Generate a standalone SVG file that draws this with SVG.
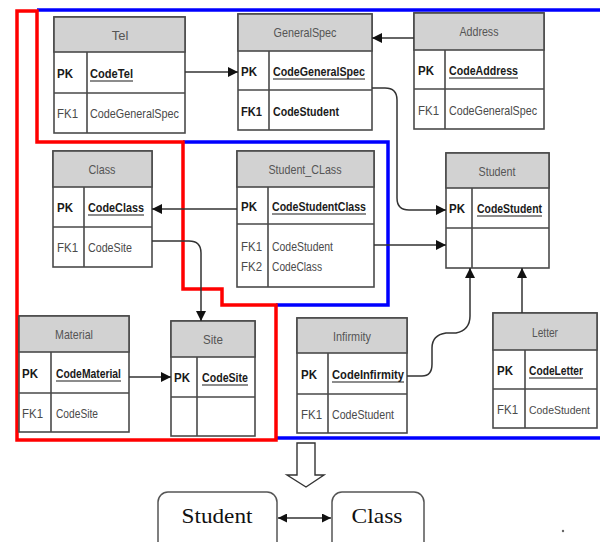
<svg xmlns="http://www.w3.org/2000/svg" width="600" height="542" viewBox="0 0 600 542">
  <style>
    .box { fill: #ffffff; stroke: #4a4a4a; stroke-width: 1.6; }
    .hdr { fill: #d2d2d2; stroke: #4a4a4a; stroke-width: 1.6; }
    .sep { stroke: #4a4a4a; stroke-width: 1.6; fill: none; }
    .ht { font-family: "Liberation Sans", Arial, sans-serif; font-size: 13px; fill: #555555; text-anchor: middle; }
    .k { font-family: "Liberation Sans", Arial, sans-serif; font-size: 13px; fill: #1a1a1a; font-weight: bold; }
    .f { font-family: "Liberation Sans", Arial, sans-serif; font-size: 13px; fill: #4a4a4a; }
    .ul { stroke: #1a1a1a; stroke-width: 1.2; }
    .conn { fill: none; stroke: #333333; stroke-width: 1.5; }
    .red { fill: none; stroke: #ff0000; stroke-width: 3.5; }
    .blue { fill: none; stroke: #0000ff; stroke-width: 3.5; }
    .rbox { fill: #ffffff; stroke: #555555; stroke-width: 1.5; }
    .st { font-family: "Liberation Serif", "Times New Roman", serif; font-size: 22px; fill: #111111; text-anchor: middle; }
  </style>
  <defs>
    <marker id="arr" viewBox="0 0 10 10" refX="10" refY="5" markerWidth="10" markerHeight="10" markerUnits="userSpaceOnUse" orient="auto">
      <path d="M0,0 L10,5 L0,10 z" fill="#111111"/>
    </marker>
    <marker id="arrs" viewBox="0 0 10 10" refX="10" refY="5" markerWidth="9" markerHeight="9" markerUnits="userSpaceOnUse" orient="auto-start-reverse">
      <path d="M0,0 L10,5 L0,10 z" fill="#111111"/>
    </marker>
  </defs>

  <!-- grouping outlines -->
  <g id="outlines">
    <path class="blue" d="M37,10 H600"/>
    <path class="blue" d="M183,142 H388 V305 H276"/>
    <path class="blue" d="M276,438 H600"/>
    <path class="red" d="M17,440 V11 H37 V142 H183 V289 H222 V305 H276 V440 Z"/>
  </g>

  <!-- Tel -->
  <g id="tel">
    <rect class="box" x="54" y="17" width="131" height="116"/>
    <rect class="hdr" x="54" y="17" width="131" height="35"/>
    <path class="sep" d="M54,93 H185 M87,52 V133"/>
    <text class="ht" x="120" y="40">Tel</text>
    <text class="k" x="57" y="78" textLength="16" lengthAdjust="spacingAndGlyphs">PK</text>
    <text class="k" x="90" y="78" textLength="43" lengthAdjust="spacingAndGlyphs">CodeTel</text>
    <line class="ul" x1="90" y1="81" x2="133" y2="81"/>
    <text class="f" x="57" y="118" textLength="21" lengthAdjust="spacingAndGlyphs">FK1</text>
    <text class="f" x="90" y="118" textLength="89" lengthAdjust="spacingAndGlyphs">CodeGeneralSpec</text>
  </g>

  <!-- GeneralSpec -->
  <g id="generalspec">
    <rect class="box" x="238" y="14" width="134" height="116"/>
    <rect class="hdr" x="238" y="14" width="134" height="37"/>
    <path class="sep" d="M238,90 H372 M269,51 V130"/>
    <text class="ht" x="305" y="37" textLength="63" lengthAdjust="spacingAndGlyphs">GeneralSpec</text>
    <text class="k" x="241" y="76" textLength="16" lengthAdjust="spacingAndGlyphs">PK</text>
    <text class="k" x="273" y="76" textLength="92" lengthAdjust="spacingAndGlyphs">CodeGeneralSpec</text>
    <line class="ul" x1="273" y1="79" x2="365" y2="79"/>
    <text class="k" x="241" y="116" textLength="21" lengthAdjust="spacingAndGlyphs">FK1</text>
    <text class="k" x="273" y="116" textLength="66" lengthAdjust="spacingAndGlyphs">CodeStudent</text>
  </g>

  <!-- Address -->
  <g id="address">
    <rect class="box" x="414" y="13" width="130" height="116"/>
    <rect class="hdr" x="414" y="13" width="130" height="37"/>
    <path class="sep" d="M414,89 H544 M445,50 V129"/>
    <text class="ht" x="479" y="36" textLength="39" lengthAdjust="spacingAndGlyphs">Address</text>
    <text class="k" x="418" y="75" textLength="16" lengthAdjust="spacingAndGlyphs">PK</text>
    <text class="k" x="449" y="75" textLength="69" lengthAdjust="spacingAndGlyphs">CodeAddress</text>
    <line class="ul" x1="449" y1="78" x2="518" y2="78"/>
    <text class="f" x="418" y="115" textLength="21" lengthAdjust="spacingAndGlyphs">FK1</text>
    <text class="f" x="449" y="115" textLength="88" lengthAdjust="spacingAndGlyphs">CodeGeneralSpec</text>
  </g>

  <!-- Class -->
  <g id="class">
    <rect class="box" x="53" y="151" width="99" height="116"/>
    <rect class="hdr" x="53" y="151" width="99" height="36"/>
    <path class="sep" d="M53,227 H152 M84,187 V267"/>
    <text class="ht" x="102" y="174" textLength="27" lengthAdjust="spacingAndGlyphs">Class</text>
    <text class="k" x="57" y="212" textLength="16" lengthAdjust="spacingAndGlyphs">PK</text>
    <text class="k" x="88" y="212" textLength="56" lengthAdjust="spacingAndGlyphs">CodeClass</text>
    <line class="ul" x1="88" y1="215" x2="144" y2="215"/>
    <text class="f" x="57" y="252" textLength="21" lengthAdjust="spacingAndGlyphs">FK1</text>
    <text class="f" x="88" y="252" textLength="44" lengthAdjust="spacingAndGlyphs">CodeSite</text>
  </g>

  <!-- Student_CLass -->
  <g id="student-class">
    <rect class="box" x="237" y="151" width="137" height="136"/>
    <rect class="hdr" x="237" y="151" width="137" height="36"/>
    <path class="sep" d="M237,224 H374 M268,187 V287"/>
    <text class="ht" x="305" y="174" textLength="73" lengthAdjust="spacingAndGlyphs">Student_CLass</text>
    <text class="k" x="241" y="211" textLength="16" lengthAdjust="spacingAndGlyphs">PK</text>
    <text class="k" x="272" y="211" textLength="94" lengthAdjust="spacingAndGlyphs">CodeStudentClass</text>
    <line class="ul" x1="272" y1="214" x2="366" y2="214"/>
    <text class="f" x="241" y="251" textLength="21" lengthAdjust="spacingAndGlyphs">FK1</text>
    <text class="f" x="272" y="251" textLength="61" lengthAdjust="spacingAndGlyphs">CodeStudent</text>
    <text class="f" x="241" y="271" textLength="21" lengthAdjust="spacingAndGlyphs">FK2</text>
    <text class="f" x="272" y="271" textLength="50" lengthAdjust="spacingAndGlyphs">CodeClass</text>
  </g>

  <!-- Student -->
  <g id="student">
    <rect class="box" x="446" y="153" width="103" height="115"/>
    <rect class="hdr" x="446" y="153" width="103" height="35"/>
    <path class="sep" d="M446,228 H549 M472,188 V268"/>
    <text class="ht" x="497" y="176" textLength="37" lengthAdjust="spacingAndGlyphs">Student</text>
    <text class="k" x="449" y="213" textLength="16" lengthAdjust="spacingAndGlyphs">PK</text>
    <text class="k" x="477" y="213" textLength="65" lengthAdjust="spacingAndGlyphs">CodeStudent</text>
    <line class="ul" x1="477" y1="216" x2="542" y2="216"/>
  </g>

  <!-- Material -->
  <g id="material">
    <rect class="box" x="19" y="316" width="110" height="116"/>
    <rect class="hdr" x="19" y="316" width="110" height="36"/>
    <path class="sep" d="M19,393 H129 M51,352 V432"/>
    <text class="ht" x="74" y="339" textLength="38" lengthAdjust="spacingAndGlyphs">Material</text>
    <text class="k" x="22" y="378" textLength="16" lengthAdjust="spacingAndGlyphs">PK</text>
    <text class="k" x="56" y="378" textLength="65" lengthAdjust="spacingAndGlyphs">CodeMaterial</text>
    <line class="ul" x1="56" y1="381" x2="121" y2="381"/>
    <text class="f" x="22" y="418" textLength="21" lengthAdjust="spacingAndGlyphs">FK1</text>
    <text class="f" x="56" y="418" textLength="42" lengthAdjust="spacingAndGlyphs">CodeSite</text>
  </g>

  <!-- Site -->
  <g id="site">
    <rect class="box" x="171" y="321" width="84" height="115"/>
    <rect class="hdr" x="171" y="321" width="84" height="36"/>
    <path class="sep" d="M171,397 H255 M197,357 V436"/>
    <text class="ht" x="213" y="344" textLength="20" lengthAdjust="spacingAndGlyphs">Site</text>
    <text class="k" x="174" y="382" textLength="16" lengthAdjust="spacingAndGlyphs">PK</text>
    <text class="k" x="202" y="382" textLength="46" lengthAdjust="spacingAndGlyphs">CodeSite</text>
    <line class="ul" x1="202" y1="385" x2="248" y2="385"/>
  </g>

  <!-- Infirmity -->
  <g id="infirmity">
    <rect class="box" x="297" y="318" width="110" height="115"/>
    <rect class="hdr" x="297" y="318" width="110" height="35"/>
    <path class="sep" d="M297,394 H407 M328,353 V433"/>
    <text class="ht" x="352" y="341" textLength="38" lengthAdjust="spacingAndGlyphs">Infirmity</text>
    <text class="k" x="301" y="379" textLength="16" lengthAdjust="spacingAndGlyphs">PK</text>
    <text class="k" x="332" y="379" textLength="72" lengthAdjust="spacingAndGlyphs">CodeInfirmity</text>
    <line class="ul" x1="332" y1="382" x2="404" y2="382"/>
    <text class="f" x="301" y="419" textLength="21" lengthAdjust="spacingAndGlyphs">FK1</text>
    <text class="f" x="332" y="419" textLength="62" lengthAdjust="spacingAndGlyphs">CodeStudent</text>
  </g>

  <!-- Letter -->
  <g id="letter">
    <rect class="box" x="493" y="313" width="104" height="115"/>
    <rect class="hdr" x="493" y="313" width="104" height="37"/>
    <path class="sep" d="M493,389 H597 M525,350 V428"/>
    <text class="ht" x="545" y="337" textLength="26" lengthAdjust="spacingAndGlyphs">Letter</text>
    <text class="k" x="497" y="375" textLength="16" lengthAdjust="spacingAndGlyphs">PK</text>
    <text class="k" x="529" y="375" textLength="54" lengthAdjust="spacingAndGlyphs">CodeLetter</text>
    <line class="ul" x1="529" y1="378" x2="583" y2="378"/>
    <text class="f" x="497" y="414" textLength="21" lengthAdjust="spacingAndGlyphs">FK1</text>
    <text class="f" x="529" y="414" style="font-size:11px" textLength="61" lengthAdjust="spacingAndGlyphs">CodeStudent</text>
  </g>

  <!-- relationships -->
  <g id="connectors">
    <path class="conn" d="M185,72 H238" marker-end="url(#arr)"/>
    <path class="conn" d="M414,38 H372" marker-end="url(#arr)"/>
    <path class="conn" d="M372,88 H385 Q397,88 397,100 V198 Q397,210 409,210 H446" marker-end="url(#arr)"/>
    <path class="conn" d="M237,209 H152" marker-end="url(#arr)"/>
    <path class="conn" d="M374,245 H446" marker-end="url(#arr)"/>
    <path class="conn" d="M152,241 H189 Q201,241 201,253 V321" marker-end="url(#arr)"/>
    <path class="conn" d="M129,377 H171" marker-end="url(#arr)"/>
    <path class="conn" d="M407,376 H422 Q432,376 432,364 V348 Q432,335 446,333 H456 Q470,330 470,316 V268" marker-end="url(#arr)"/>
    <path class="conn" d="M522,313 V268" marker-end="url(#arr)"/>
    <path class="conn" d="M278,518 H331" marker-start="url(#arrs)" marker-end="url(#arrs)"/>
  </g>

  <!-- derived result -->
  <g id="result-arrow">
    <path d="M297,443 H315 V475 H324 L306,487 L287,475 H297 Z" fill="#ffffff" stroke="#333333" stroke-width="1.4"/>
  </g>
  <g id="node-student">
    <rect class="rbox" x="158" y="492" width="119" height="62" rx="10"/>
    <text class="st" x="217" y="523" textLength="71" lengthAdjust="spacingAndGlyphs">Student</text>
  </g>
  <g id="node-class">
    <rect class="rbox" x="332" y="492" width="92" height="62" rx="10"/>
    <text class="st" x="377" y="523" textLength="51" lengthAdjust="spacingAndGlyphs">Class</text>
  </g>
  <circle cx="563" cy="531" r="1.2" fill="#666666"/>
</svg>
